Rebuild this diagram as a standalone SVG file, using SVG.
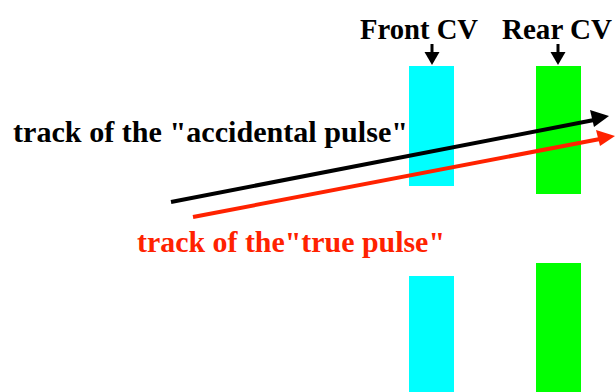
<svg xmlns="http://www.w3.org/2000/svg" width="616" height="392" viewBox="0 0 616 392">
<style>
text{font-family:'Liberation Serif','Times New Roman',Times,serif;font-weight:700;font-size:30px}
.cyan{fill:#00ffff}.green{fill:#00ff00}
</style>
<rect width="616" height="392" fill="#fff"/>
<g id="front-cv">
<rect class="cyan" x="409" y="66" width="45" height="120"/>
<rect class="cyan" x="409" y="276" width="45" height="116"/>
<text x="360" y="39" textLength="118" lengthAdjust="spacingAndGlyphs">Front CV</text>
</g>
<g id="rear-cv">
<rect class="green" x="536" y="66" width="45" height="128"/>
<rect class="green" x="536" y="263" width="45" height="129"/>
<text x="502" y="39" textLength="110" lengthAdjust="spacingAndGlyphs">Rear CV</text>
</g>
<g id="labels">
<text x="13" y="142" textLength="395" lengthAdjust="spacingAndGlyphs">track of the "accidental pulse"</text>
<text x="137" y="252" fill="#ff2200" textLength="308" lengthAdjust="spacingAndGlyphs">track of the"true pulse"</text>
</g>
<g id="connectors">
<line x1="432" y1="44" x2="432" y2="55" stroke="#000" stroke-width="3"/>
<path d="M424.5,52 L439.5,52 L432,65 z" fill="#000"/>
<line x1="558" y1="44" x2="558" y2="55" stroke="#000" stroke-width="3"/>
<path d="M550.5,52 L565.5,52 L558,65 z" fill="#000"/>
<line x1="171" y1="202" x2="594" y2="120" stroke="#000" stroke-width="4"/>
<path d="M609,116 L590,110 L594,127 z" fill="#000"/>
<line x1="193" y1="217" x2="600" y2="139" stroke="#ff2200" stroke-width="4"/>
<path d="M615,136 L596,130 L600,146 z" fill="#ff2200"/>
</g>
</svg>
